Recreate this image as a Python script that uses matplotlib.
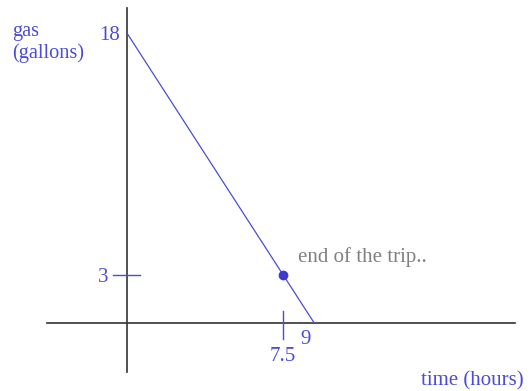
import matplotlib
matplotlib.use("Agg")
import matplotlib.pyplot as plt

# data
time_hours = [0, 9]
gas_gallons = [18, 0]
end_point = (7.5, 3)
x_tick_labels = ["7.5", "9"]
y_tick_labels = ["18", "3"]

plt.rcParams['font.family'] = ['Liberation Serif', 'DejaVu Serif']
blue = '#4b4bdc'
fig = plt.figure(figsize=(5.31, 3.91), dpi=100)
ax = fig.add_axes([0, 0, 1, 1])
ax.set_xlim(-6.106, 19.42)
ax.set_ylim(-4.22, 20.06)
ax.axis('off')

# axes
ax.plot([0, 0], [-3.06, 19.57], color='#333333', lw=1.2)
ax.plot([-3.85, 18.65], [0, 0], color='#333333', lw=1.2)

# line
ax.plot(time_hours, gas_gallons, color=blue, lw=0.9)
ax.plot([end_point[0]], [end_point[1]], 'o', color='#3b3bcc', ms=6)

# ticks
ax.plot([-0.67, 0.63], [3, 3], color=blue, lw=1)
ax.plot([7.5, 7.5], [0.75, -1.0], color=blue, lw=1)

fs = 15
ax.text(-0.33, 17.85, y_tick_labels[0], color=blue, fontsize=fs, ha='right', va='center')
ax.text(-1.15, 2.8, y_tick_labels[1], color=blue, fontsize=fs, ha='center', va='center')
ax.text(7.5, -2.05, x_tick_labels[0], color=blue, fontsize=fs, ha='center', va='center')
ax.text(8.6, -1.05, x_tick_labels[1], color=blue, fontsize=fs, ha='center', va='center')
ax.text(-5.53, 17.45, 'gas\n(gallons)', color=blue, fontsize=14.6, ha='left', va='center', linespacing=1.15)
ax.text(8.22, 4.1, 'end of the trip..', color='#808080', fontsize=fs, ha='left', va='center')
ax.text(19.08, -3.6, 'time (hours)', color=blue, fontsize=fs, ha='right', va='center')

fig.savefig('out.png', dpi=100)
